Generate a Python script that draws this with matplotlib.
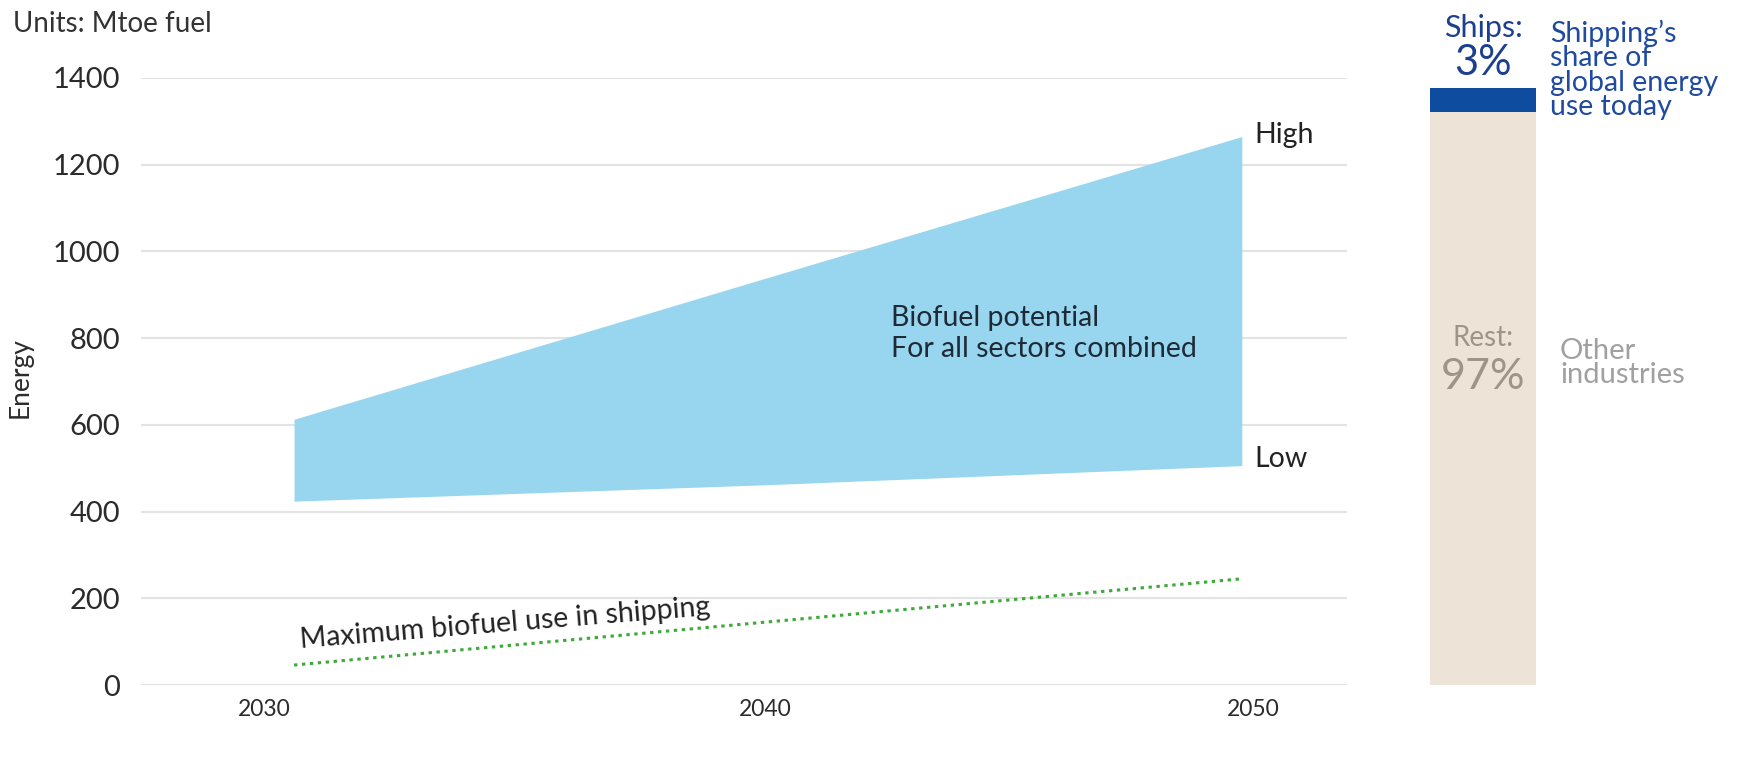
import matplotlib
matplotlib.use('Agg')
import matplotlib.pyplot as plt
from matplotlib.transforms import ScaledTranslation

plt.rcParams['font.family'] = ['Lato', 'DejaVu Sans']

# data
years = [2030, 2040, 2050]
low = [424, 462, 506]
high = [613, 940, 1265]
ship_years = [2030, 2050]
ship_max = [46, 245]
share_labels = ['Rest', 'Ships']
share_values = [96, 4]  # bar segments as drawn
share_colors = ['#EDE3D6', '#0D4C9E']
yticks = [0, 200, 400, 600, 800, 1000, 1200, 1400]

W, H = 1739, 762
fig = plt.figure(figsize=(W / 100, H / 100), dpi=100)

def fx(px):
    return px / W

def fy(py):
    return 1 - py / H

# main chart
ax = fig.add_axes([fx(141), fy(685), fx(1347 - 141), (685 - 78) / H])
ax.fill_between(years, low, high, color='#98D6EF', lw=0)
ax.plot(ship_years, ship_max, color='#3DAA3A', ls=(0, (1.1, 1.5)), lw=2.2)

ax.set_xlim(2026.77, 2052.22)
ax.set_ylim(0, 1400)
ax.set_yticks(yticks)
ax.set_xticks(years)
ax.grid(axis='y', color='#E3E3E3', lw=1.5)
ax.set_axisbelow(True)
for s in ax.spines.values():
    s.set_visible(False)
ax.tick_params(axis='y', length=0, pad=15, labelsize=21, labelcolor='#2b2b2b')
ax.tick_params(axis='x', length=0, pad=10, labelsize=16.5, labelcolor='#2b2b2b')
# x labels sit slightly off their years in the reference
for lab, dx in zip(ax.get_xticklabels(), [-30, -3, 11]):
    lab.set_transform(lab.get_transform() + ScaledTranslation(dx / 100, 0, fig.dpi_scale_trans))
ax.set_ylabel('Energy', fontsize=19, color='#2b2b2b')
ax.yaxis.set_label_coords(-0.09, 0.507)

ax.text(2050.27, 1268, 'High', fontsize=20.5, color='#222', va='center', ha='left')
ax.text(2050.27, 521, 'Low', fontsize=20.5, color='#222', va='center', ha='left')
ax.text(2042.6, 846, 'Biofuel potential', fontsize=20.5, color='#1e2a35', va='center')
ax.text(2042.6, 775, 'For all sectors combined', fontsize=20.5, color='#1e2a35', va='center')
ax.text(2030.13, 85, 'Maximum biofuel use in shipping', fontsize=20.5, color='#222',
        rotation=4.6, rotation_mode='anchor', ha='left', va='baseline')

fig.text(fx(13), fy(24), 'Units: Mtoe fuel', fontsize=20, color='#333', va='center')

# share bar
bx = fig.add_axes([fx(1430), fy(685), fx(1536 - 1430), (685 - 88) / H])
bottom = 0
for v, c in zip(share_values, share_colors):
    bx.bar(0, v, bottom=bottom, width=1, color=c, lw=0)
    bottom += v
bx.set_xlim(-0.5, 0.5)
bx.set_ylim(0, 100)
bx.axis('off')

fig.text(fx(1483), fy(28), 'Ships:', fontsize=22, color='#1C3F8F', ha='center', va='center')
fig.text(fx(1483), fy(63), '3%', fontsize=30, color='#1C3F8F', ha='center', va='center')
fig.text(fx(1550), fy(70), "Shipping\u2019s\nshare of\nglobal energy\nuse today", fontsize=20.5,
         color='#1F4AA0', ha='left', va='center', linespacing=0.93)
fig.text(fx(1483), fy(338), 'Rest:', fontsize=20, color='#A09486', ha='center', va='center')
fig.text(fx(1483), fy(377), '97%', fontsize=31, color='#A09486', ha='center', va='center')
fig.text(fx(1560), fy(363), 'Other\nindustries', fontsize=21, color='#A0A0A0',
         ha='left', va='center', linespacing=0.95)

fig.savefig('out.png', dpi=100)
